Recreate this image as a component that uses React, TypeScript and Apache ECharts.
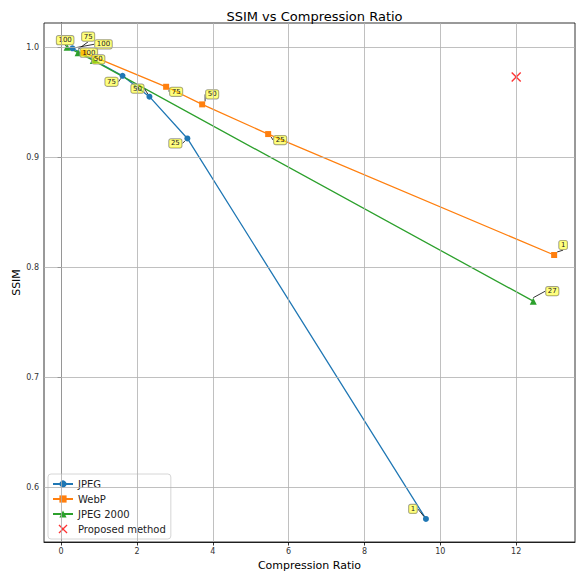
import React, { useEffect, useRef } from "react";
import * as echarts from "echarts";

const xTicks = [0, 2, 4, 6, 8, 10, 12];
const yTicks = [0.6, 0.7, 0.8, 0.9, 1.0];

const jpegRatio = [0.3, 1.62, 2.33, 3.33, 9.62];
const jpegSsim = [0.999, 0.974, 0.955, 0.917, 0.571];
const jpegQuality = [100, 75, 50, 25, 1];

const webpRatio = [0.6, 2.77, 3.72, 5.46, 13.0];
const webpSsim = [0.995, 0.964, 0.948, 0.921, 0.811];
const webpQuality = [100, 75, 50, 25, 1];

const j2kRatio = [0.16, 0.45, 0.85, 12.45];
const j2kSsim = [1.0, 0.995, 0.988, 0.769];
const j2kQuality = [100, 75, 50, 27];

const proposedRatio = [12.0];
const proposedSsim = [0.973];

// label offsets (px) for annotations
const jpegOffsets = [[31, -4], [-11, 6], [-12, -8], [-12, 5], [-13, -10]];
const webpOffsets = [[5, 0], [10, 5], [10, -10], [12, 6], [9, -10]];
const j2kOffsets = [[-2, -7], [10, -16], [5, -1], [19, -10]];

const FONT = "DejaVu Sans";

function zip(xs: number[], ys: number[], qs: number[]) {
  return xs.map((x, i) => [x, ys[i], qs[i]]);
}

function annotated(name: string, color: string, symbol: string, size: number, xs: number[], ys: number[], qs: number[], offs: number[][]) {
  return {
    name,
    type: "line",
    data: zip(xs, ys, qs),
    symbol,
    symbolSize: size,
    itemStyle: { color },
    lineStyle: { color, width: 1.3 },
    z: 3,
    label: {
      show: true,
      position: "inside",
      formatter: (p: any) => String(p.value[2]),
      fontFamily: FONT,
      fontSize: 7,
      color: "#222",
      backgroundColor: "rgba(255,255,0,0.5)",
      borderColor: "#999",
      borderWidth: 0.6,
      borderRadius: 2,
      padding: [1, 2],
    },
    labelLayout: (params: any) => ({
      dx: offs[params.dataIndex][0],
      dy: offs[params.dataIndex][1],
    }),
    labelLine: { show: true, lineStyle: { color: "#000", width: 0.8 } },
  };
}

export default function App() {
  const ref = useRef<HTMLDivElement>(null);
  useEffect(() => {
    const chart = echarts.init(ref.current!, null, { renderer: "svg" });
    chart.setOption({
      animation: false,
      backgroundColor: "#fff",
      textStyle: { fontFamily: FONT },
      title: {
        text: "SSIM vs Compression Ratio",
        left: 309.5,
        textAlign: "center",
        top: 5,
        textStyle: { fontFamily: FONT, fontSize: 13, fontWeight: "normal", color: "#000" },
      },
      grid: {
        left: 44,
        right: 1,
        top: 23,
        bottom: 31,
        containLabel: false,
        outerBoundsMode: "none",
        show: true,
        borderColor: "#000",
        borderWidth: 0.8,
      },
      legend: {
        orient: "vertical",
        left: 48,
        top: 474,
        data: ["JPEG", "WebP", "JPEG 2000", "Proposed method"],
        backgroundColor: "rgba(255,255,255,0.85)",
        borderColor: "#ccc",
        borderWidth: 0.8,
        borderRadius: 3,
        padding: [5, 5, 5, 4],
        itemGap: 5,
        itemWidth: 20,
        itemHeight: 9,
        textStyle: { fontFamily: FONT, fontSize: 10, color: "#222" },
      },
      xAxis: {
        type: "value",
        min: -0.45,
        max: 13.55,
        name: "Compression Ratio",
        nameLocation: "middle",
        nameGap: 16,
        nameTextStyle: { fontFamily: FONT, fontSize: 11, color: "#000" },
        axisLine: { show: true, lineStyle: { color: "#000", width: 0.8 } },
        axisTick: { show: true, customValues: xTicks, length: 3.5, lineStyle: { color: "#000", width: 0.8 } },
        axisLabel: { customValues: xTicks, fontFamily: FONT, fontSize: 8, color: "#333", margin: 5 },
        splitLine: { show: false },
      },
      yAxis: {
        type: "value",
        min: 0.55,
        max: 1.022,
        name: "SSIM",
        nameLocation: "middle",
        nameGap: 22,
        nameMoveOverlap: false,
        nameTextStyle: { fontFamily: FONT, fontSize: 11, color: "#000" },
        axisLine: { show: true, lineStyle: { color: "#000", width: 0.8 } },
        axisTick: { show: true, customValues: yTicks, length: 3.5, lineStyle: { color: "#000", width: 0.8 } },
        axisLabel: {
          customValues: yTicks,
          fontFamily: FONT,
          fontSize: 8,
          color: "#333",
          margin: 5,
          formatter: (v: number) => v.toFixed(1),
        },
        splitLine: { show: false },
      },
      series: [
        {
          name: "grid",
          type: "line",
          data: [],
          silent: true,
          z: 0,
          markLine: {
            silent: true,
            symbol: "none",
            label: { show: false },
            lineStyle: { color: "#b0b0b0", width: 0.8, type: "solid" },
            data: [
              ...xTicks.map((v) => ({ xAxis: v })),
              ...yTicks.map((v) => ({ yAxis: v })),
            ],
          },
        },
        annotated("JPEG", "#1f77b4", "circle", 6, jpegRatio, jpegSsim, jpegQuality, jpegOffsets),
        annotated("WebP", "#ff7f0e", "rect", 6, webpRatio, webpSsim, webpQuality, webpOffsets),
        annotated("JPEG 2000", "#2ca02c", "triangle", 7, j2kRatio, j2kSsim, j2kQuality, j2kOffsets),
        {
          name: "Proposed method",
          type: "scatter",
          data: proposedRatio.map((x, i) => [x, proposedSsim[i]]),
          symbol: "path://M0,1L1,0L5,4L9,0L10,1L6,5L10,9L9,10L5,6L1,10L0,9L4,5Z",
          symbolSize: 10,
          itemStyle: { color: "#ff0000" },
          z: 4,
        },
      ],
    });
    return () => chart.dispose();
  }, []);
  return <div ref={ref} style={{ position: "fixed", left: 0, top: 0, width: 576, height: 573 }} />;
}
